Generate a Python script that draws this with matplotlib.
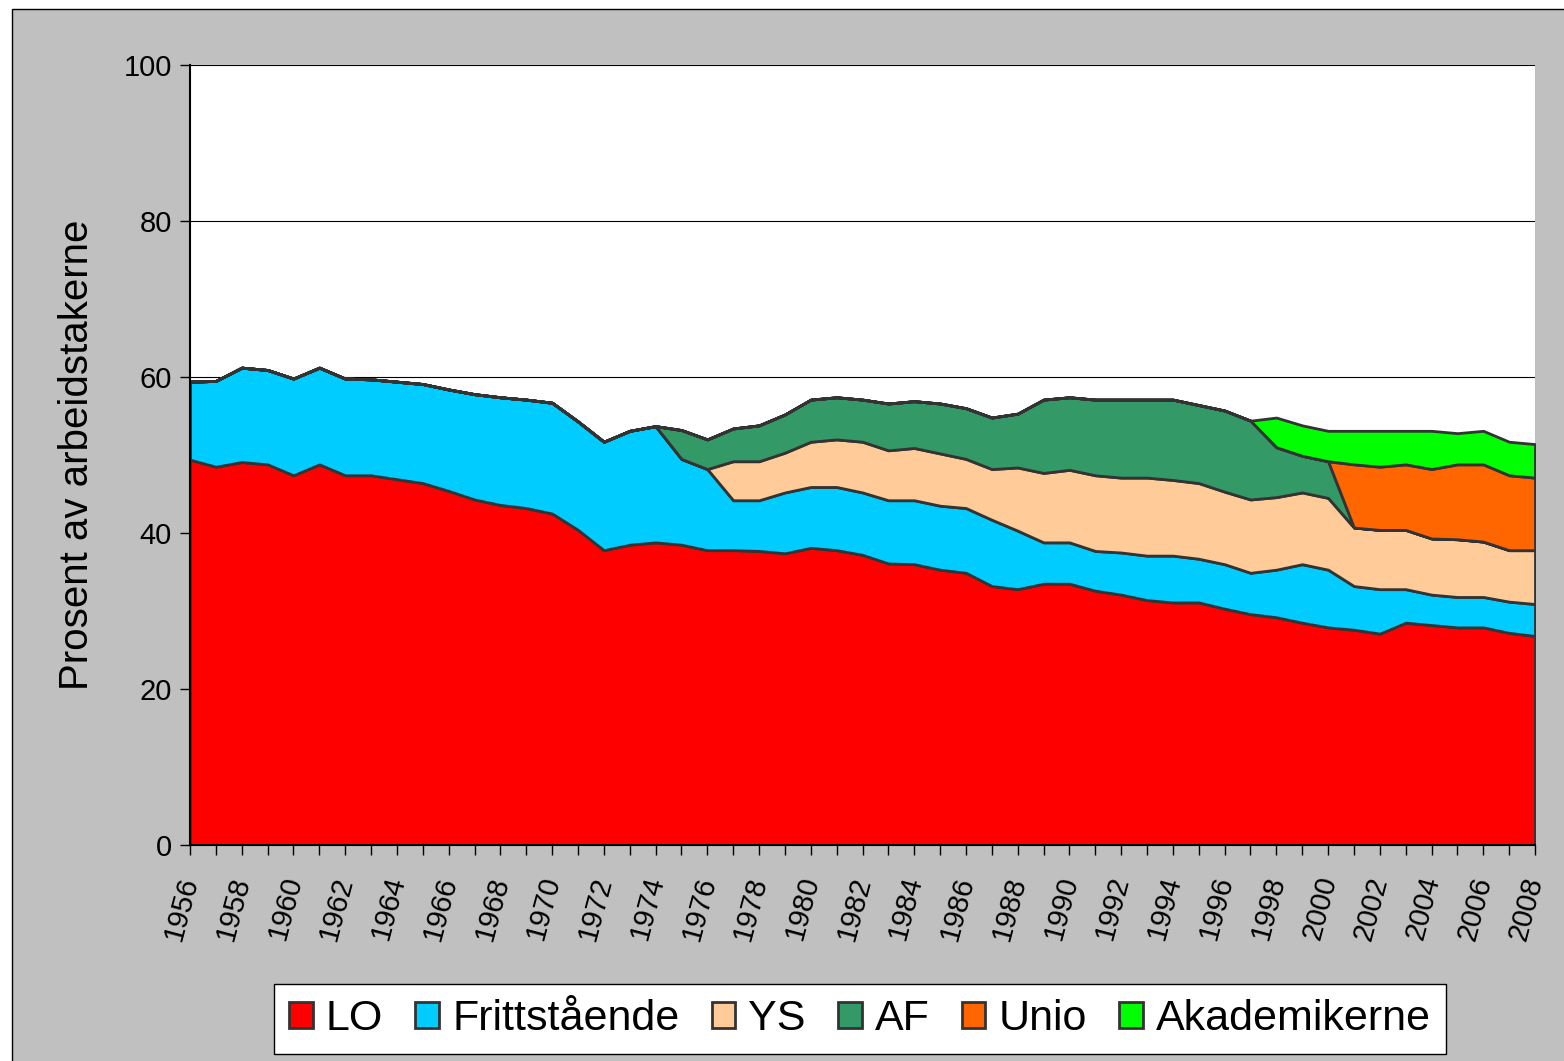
import numpy as np
import matplotlib.pyplot as plt
import matplotlib.patches as patches

plt.rcParams['font.family'] = ['Liberation Sans', 'DejaVu Sans']

# Andel organiserte arbeidstakere per hovedorganisasjon, 1956-2008
years = list(range(1956, 2009))
lo = [49.4, 48.5, 49.1, 48.8, 47.4, 48.8, 47.4, 47.4, 46.9, 46.4,
      45.4, 44.3, 43.6, 43.2, 42.5, 40.4, 37.8, 38.5, 38.8, 38.5,
      37.8, 37.8, 37.7, 37.4, 38.1, 37.8, 37.2, 36.1, 36.0, 35.3,
      34.9, 33.2, 32.8, 33.5, 33.5, 32.6, 32.1, 31.4, 31.1, 31.1,
      30.3, 29.6, 29.2, 28.5, 27.9, 27.6, 27.1, 28.5, 28.2, 27.9,
      27.9, 27.2, 26.8]
frittstaende = [10.0, 11.0, 12.1, 12.1, 12.4, 12.4, 12.4, 12.3, 12.5, 12.7,
                13.0, 13.5, 13.8, 13.9, 14.2, 13.9, 13.9, 14.6, 14.9, 11.0,
                10.4, 6.4, 6.5, 7.8, 7.8, 8.1, 8.0, 8.1, 8.2, 8.2,
                8.3, 8.5, 7.5, 5.3, 5.3, 5.1, 5.4, 5.7, 6.0, 5.6,
                5.7, 5.3, 6.1, 7.5, 7.4, 5.6, 5.7, 4.3, 3.9, 3.9,
                3.9, 4.0, 4.1]
ys = [0, 0, 0, 0, 0, 0, 0, 0, 0, 0,
      0, 0, 0, 0, 0, 0, 0, 0, 0, 0,
      0, 5.0, 5.0, 5.1, 5.8, 6.1, 6.5, 6.4, 6.7, 6.7,
      6.3, 6.5, 8.1, 8.9, 9.3, 9.7, 9.6, 10.0, 9.7, 9.7,
      9.3, 9.4, 9.3, 9.2, 9.2, 7.5, 7.6, 7.6, 7.2, 7.4,
      7.1, 6.6, 6.9]
af = [0, 0, 0, 0, 0, 0, 0, 0, 0, 0,
      0, 0, 0, 0, 0, 0, 0, 0, 0, 3.7,
      3.8, 4.2, 4.6, 4.9, 5.4, 5.4, 5.4, 6.0, 6.0, 6.4,
      6.5, 6.6, 6.9, 9.4, 9.3, 9.7, 10.0, 10.0, 10.3, 10.0,
      10.4, 10.1, 6.4, 4.7, 4.7, 0, 0, 0, 0, 0,
      0, 0, 0]
unio = [0, 0, 0, 0, 0, 0, 0, 0, 0, 0,
        0, 0, 0, 0, 0, 0, 0, 0, 0, 0,
        0, 0, 0, 0, 0, 0, 0, 0, 0, 0,
        0, 0, 0, 0, 0, 0, 0, 0, 0, 0,
        0, 0, 0, 0, 0, 8.1, 8.1, 8.4, 8.9, 9.6,
        9.9, 9.6, 9.3]
akademikerne = [0, 0, 0, 0, 0, 0, 0, 0, 0, 0,
                0, 0, 0, 0, 0, 0, 0, 0, 0, 0,
                0, 0, 0, 0, 0, 0, 0, 0, 0, 0,
                0, 0, 0, 0, 0, 0, 0, 0, 0, 0,
                0, 0, 3.8, 3.9, 3.9, 4.3, 4.6, 4.3, 4.9, 4.0,
                4.3, 4.3, 4.3]

labels = ['LO', 'Frittstående', 'YS', 'AF', 'Unio', 'Akademikerne']
colors = ['#FF0000', '#00CCFF', '#FFCC99', '#339966', '#FF6600', '#00FF00']

fig = plt.figure(figsize=(15.64, 10.61), dpi=100, facecolor='white')

# grey chart area with a black border (cut off at right/bottom)
bg = patches.Rectangle((12 / 1564, -0.1), 1.2, 1 - 9 / 1061 + 0.1,
                       transform=fig.transFigure, facecolor='#C0C0C0',
                       edgecolor='black', linewidth=1, zorder=-5)
fig.patches.append(bg)

ax = fig.add_axes([190 / 1564, 1 - 845 / 1061, 1345 / 1564, 780 / 1061])
ax.set_zorder(2)
ax.set_facecolor('white')

polys = ax.stackplot(years, lo, frittstaende, ys, af, unio, akademikerne,
                     labels=labels, colors=colors, edgecolor='#333333',
                     linewidth=2.0, zorder=3)

ax.set_xlim(1956, 2008)
ax.set_ylim(0, 100)
ax.set_yticks(np.arange(0, 101, 20))
ax.set_xticks(years)
ax.set_xticklabels([str(y) if y % 2 == 0 else '' for y in years])
ax.grid(axis='y', color='black', linewidth=0.8, zorder=1)

for s in ['top', 'right']:
    ax.spines[s].set_visible(False)
for s in ['left', 'bottom']:
    ax.spines[s].set_color('black')
    ax.spines[s].set_linewidth(1.5)
    ax.spines[s].set_zorder(4)

ax.tick_params(axis='y', direction='out', length=7, width=1, pad=6,
               labelsize=21, colors='black')
ax.tick_params(axis='x', direction='out', length=7, width=1, pad=16,
               labelsize=21, colors='black')
for lab in ax.get_xticklabels():
    lab.set_rotation(75)
    lab.set_rotation_mode('anchor')
    lab.set_ha('right')
    lab.set_va('center')

ax.set_ylabel('Prosent av arbeidstakerne', fontsize=29, va='center')
ax.yaxis.set_label_coords(-0.084, 0.5)

leg = fig.legend(handles=polys, labels=labels, loc='center',
                 bbox_to_anchor=(860 / 1564, 1 - 1019 / 1061), ncol=6,
                 fontsize=31, frameon=True, fancybox=False, framealpha=1,
                 edgecolor='black', handlelength=0.55, handleheight=0.55,
                 handletextpad=0.3, columnspacing=0.75, borderpad=0.35)
leg.get_frame().set_linewidth(1)
leg.set_zorder(5)

fig.savefig('out.png', dpi=100, facecolor=fig.get_facecolor())
